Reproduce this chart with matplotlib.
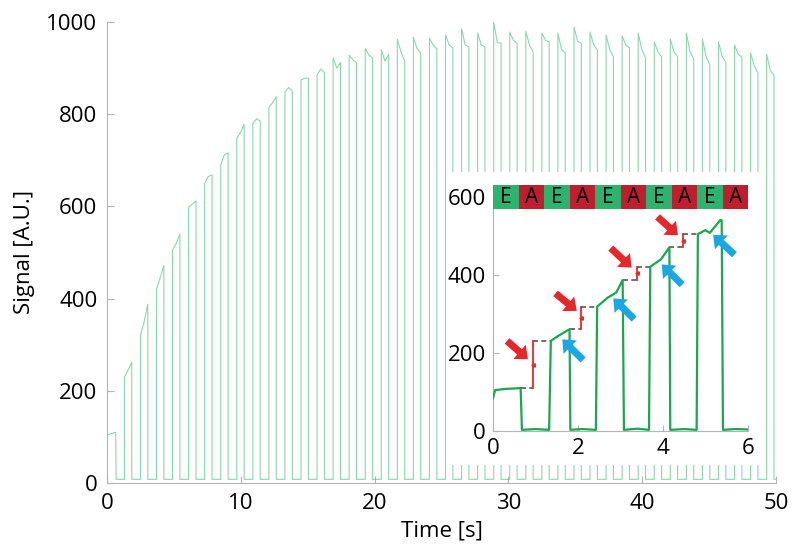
"""
Square-wave signal with rising envelope, and an inset zoom on the first pulses
with E/A switching bar, step markers and arrows.
"""

import matplotlib.pyplot as plt
from matplotlib.patches import Rectangle

plt.rcParams["font.family"] = ["Open Sans", "DejaVu Sans"]

###############################################################################
# Main trace: one high pulse per entry

pulse_start = [1.3, 2.5, 3.7, 4.9, 6.1, 7.3, 8.5, 9.7, 10.9, 12.1, 13.3, 14.5, 15.7,
               16.9, 18.1, 19.3, 20.5, 21.7, 22.9, 24.1, 25.3, 26.5, 27.7, 28.9,
               30.1, 31.3, 32.5, 33.7, 34.9, 36.1, 37.3, 38.5, 39.7, 40.9, 42.1,
               43.3, 44.5, 45.7, 46.9, 48.1, 49.3]
pulse_width = 0.55
pulse_first = [230, 320, 420, 505, 598, 650, 690, 748, 780, 815, 848, 874, 885,
               922, 928, 943, 940, 962, 967, 965, 972, 985, 976, 1000,
               978, 980, 976, 976, 989, 978, 972, 970, 976, 957, 963,
               976, 963, 957, 950, 933, 930]
pulse_mid = [245, 350, 445, 520, 605, 665, 712, 760, 790, 825, 858, 878, 898,
             900, 918, 928, 915, 935, 942, 950, 950, 950, 950, 955,
             960, 950, 960, 940, 958, 950, 940, 950, 940, 935, 935,
             935, 925, 925, 930, 905, 895]
pulse_last = [262, 388, 472, 540, 612, 668, 716, 778, 785, 838, 850, 878, 890,
              912, 912, 922, 930, 915, 933, 942, 944, 946, 946, 954,
              954, 935, 957, 933, 954, 939, 924, 944, 922, 924, 924,
              920, 907, 913, 924, 889, 885]
first_level = [85, 105, 110]  # initial plateau before switching starts
first_time = [0.0, 0.05, 0.65]
low_level = 8
t_end = 50.0

###############################################################################
# Inset trace (0 - 6 s), step markers, arrows and switching bar

ins_t = [0.0, 0.05, 0.3, 0.65, 0.68, 1.0, 1.32, 1.36, 1.55, 1.80, 1.82, 2.1, 2.42,
         2.45, 2.7, 2.9, 3.05, 3.08, 3.4, 3.67, 3.70, 3.95, 4.15, 4.17, 4.5, 4.79,
         4.82, 5.0, 5.1, 5.35, 5.38, 5.41, 5.7, 6.0]
ins_v = [84, 105, 108, 110, 3, 5, 3, 231, 245, 261, 3, 5, 3,
         319, 342, 355, 387, 3, 6, 3, 421, 440, 471, 3, 5, 3,
         505, 515, 508, 541, 540, 3, 5, 4]

step_from = [0.65, 1.80, 3.05, 4.15]   # end of previous plateau
step_at = [0.93, 2.08, 3.39, 4.46]     # where the red jump is drawn
step_to = [1.36, 2.45, 3.70, 4.82]     # rise of next pulse
step_lo = [110, 261, 387, 471]
step_hi = [231, 319, 421, 505]

red_tail = [(0.33, 231), (1.47, 353), (2.77, 469), (3.87, 549)]
red_head = [(0.82, 184), (1.97, 308), (3.26, 419), (4.35, 502)]
blue_tail = [(2.12, 182), (3.32, 287), (4.45, 375), (5.68, 452)]
blue_head = [(1.63, 235), (2.83, 340), (3.97, 427), (5.18, 503)]

phases = ["E", "A", "E", "A", "E", "A", "E", "A", "E", "A"]
phase_colors = {"E": "#2db36d", "A": "#bf1e2e"}
phase_width = 0.6

###############################################################################

grey = "#b4b4b4"
fig = plt.figure(figsize=(7.92, 5.44), dpi=100)
ax = fig.add_axes([0.1351, 0.1121, 0.8447, 0.8475])

# build the main polyline from the pulse table
t_main = list(first_time) + [first_time[-1] + 0.03]
v_main = list(first_level) + [low_level]
for t0, a, b, c in zip(pulse_start, pulse_first, pulse_mid, pulse_last):
    t_main += [t0, t0, t0 + pulse_width / 2, t0 + pulse_width, t0 + pulse_width]
    v_main += [low_level, a, b, c, low_level]
t_main.append(t_end)
v_main.append(low_level)

ax.plot(t_main, v_main, color="#3cbf74", lw=0.8, alpha=0.6)
ax.set_xlim(0, 50)
ax.set_ylim(0, 1000)
ax.set_xticks([0, 10, 20, 30, 40, 50])
ax.set_yticks([0, 200, 400, 600, 800, 1000])
ax.set_xlabel("Time [s]", fontsize=16, labelpad=5)
ax.set_ylabel("Signal [A.U.]", fontsize=16, labelpad=8)
for side in ("top", "right"):
    ax.spines[side].set_visible(False)
for side in ("left", "bottom"):
    ax.spines[side].set_color(grey)
ax.tick_params(direction="in", length=5, color=grey, labelsize=16, pad=7)

# white box behind the inset
fig.add_artist(Rectangle((0.5644, 0.1452), 0.3977, 0.5386, transform=fig.transFigure,
                         facecolor="white", edgecolor="none", zorder=1))

ins = fig.add_axes([0.6225, 0.2077, 0.322, 0.4302])
ins.set_zorder(2)
ins.plot(ins_t, ins_v, color="#1ba650", lw=1.6, zorder=3)

for f, s, e, lo, hi in zip(step_from, step_at, step_to, step_lo, step_hi):
    ins.plot([f, s], [lo, lo], ls=(0, (3, 2)), color="#555555", lw=1.2)
    ins.plot([s, e], [hi, hi], ls=(0, (3, 2)), color="#555555", lw=1.2)
    ins.plot([s, s], [lo, hi], color="#e8262a", lw=1.3)
    ins.plot([s], [(lo + hi) / 2], marker="<", ms=2.5, color="#e8262a")

arrow_style = "simple,head_length=0.5,head_width=0.85,tail_width=0.32"
for tails, heads, col in ((red_tail, red_head, "#e8262a"), (blue_tail, blue_head, "#1ba7e1")):
    for tl, hd in zip(tails, heads):
        ins.annotate("", xy=hd, xytext=tl,
                     arrowprops=dict(arrowstyle=arrow_style, color=col, mutation_scale=16,
                                     shrinkA=0, shrinkB=0, lw=0))

for i, ph in enumerate(phases):
    ins.add_patch(Rectangle((i * phase_width, 570), phase_width, 60, facecolor=phase_colors[ph],
                            edgecolor="none", clip_on=False, zorder=4))
    ins.text(i * phase_width + phase_width / 2, 598, ph, ha="center", va="center",
             fontsize=15, color="black", zorder=5)

ins.set_xlim(0, 6)
ins.set_ylim(0, 600)
ins.set_xticks([0, 2, 4, 6])
ins.set_yticks([0, 200, 400, 600])
for side in ("top", "right"):
    ins.spines[side].set_visible(False)
for side in ("left", "bottom"):
    ins.spines[side].set_color(grey)
ins.tick_params(direction="in", length=4, color=grey, labelsize=16, pad=5)

fig.savefig("out.png", dpi=100)
